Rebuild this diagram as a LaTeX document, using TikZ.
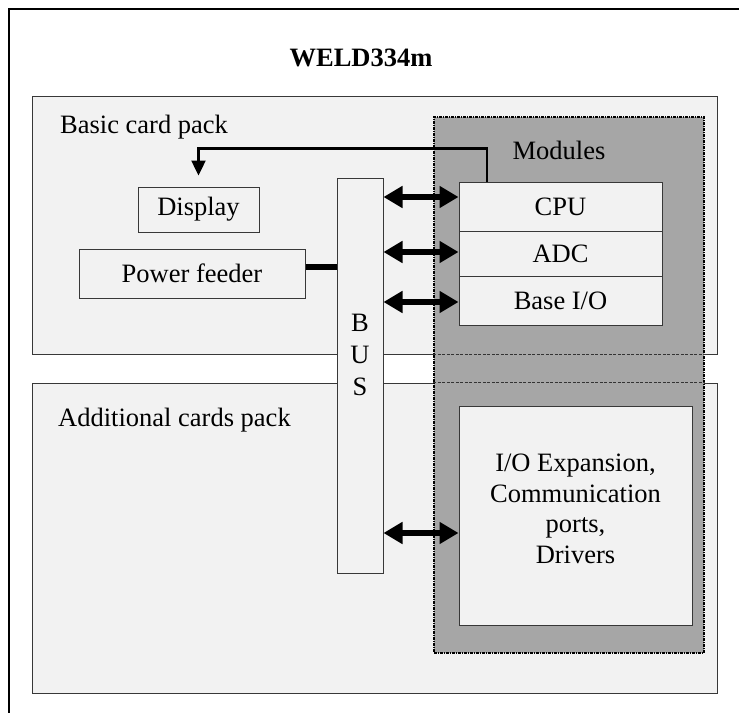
\documentclass[tikz,border=0pt]{standalone}
\usepackage{fontspec}
\setmainfont{Liberation Serif}
\usetikzlibrary{arrows.meta,calc}
\definecolor{panel}{HTML}{F2F2F2}
\definecolor{modgray}{HTML}{A6A6A6}
\definecolor{boxline}{HTML}{383838}

\begin{document}
\begin{tikzpicture}[x=1pt,y=-1pt,font=\fontsize{26.5}{30.5}\selectfont]
                     \tikzset{box/.style 2 args={draw=boxline, fill=panel, line width=1pt, inner sep=0pt, minimum width=#1, minimum height=#2},
                              modbox/.style={draw=black, fill=modgray, line width=1.3pt, dash pattern=on 3pt off 1pt on 1pt off 1pt, inner sep=0pt, minimum width=270, minimum height=536},
                              seam/.style={draw=black!80, line width=1pt, dash pattern=on 3pt off 1.5pt},
                              link/.style={{Triangle[width=21pt,length=19pt]}-{Triangle[width=21pt,length=19pt]}, line width=5.5pt},
                              fb/.style={-{Triangle[width=14pt,length=15pt]}, line width=2.4pt},
                              pwr/.style={line width=6pt},
                              lbl/.style={anchor=west, inner sep=0pt}};
            \useasboundingbox (0,0) rectangle (739,713);
            \fill[white] (0,0) rectangle (739,713);
            \draw[line width=2.4pt] (739,9) -- (9,9) -- (9,713);
            
            \node[font=\fontsize{26.5}{30.5}\selectfont\bfseries] (title) at (361,58) {WELD334m};
            
            \node[box={685}{258}] (basic) at (374.5,225) {};
            \node[box={685}{310}] (extra) at (374.5,538) {};
            \node[lbl] (basiclbl) at (60,127) {Basic card pack};
            \node[lbl] (extralbl) at (58,420) {Additional cards pack};
            
            \node[modbox] (modules) at (569,385) {};
            \draw[seam] (basic.south -| modules.west) -- (basic.south -| modules.east);
            \draw[seam] (extra.north -| modules.west) -- (extra.north -| modules.east);
            \node (modlbl) at (559,150) {Modules};
            
            \node[box={46}{395}] (bus) at (360,375.5) {};
            \node[align=center, inner sep=0pt, font=\fontsize{26.5}{32}\selectfont] (buslbl) at (360,355) {B\\U\\S};
            
            \node[box={121}{45}] (display) at (198.5,209.5) {Display};
            \node[box={226}{49}] (power) at (192,273.5) {Power feeder};
            
            \node[box={203}{49}] (cpu) at (560.5,206.5) {CPU};
            \node[box={203}{45}] (adc) at (560.5,253.5) {ADC};
            \node[box={203}{49}] (baseio) at (560.5,300.5) {Base I/O};
            \node[box={233}{219}, align=center, text depth=14pt] (ioexp) at (575.5,515.5) {I/O Expansion,\\Communication\\ports,\\Drivers};
            
            \foreach \m/\dy in {cpu/-9.5,adc/-1.5,baseio/1.5,ioexp/17.5}
                \draw[link] ($(\m.west -| bus.east)+(0,\dy)$) -- ($(\m.west)+(0,\dy)$);
            
            \draw[fb] ($(cpu.north)+(-73.5,0)$) -- ++(0,-33) -| ($(display.north)+(0,-11)$);
            \draw[pwr] ($(power.east)+(0,-6.5)$) coordinate (p) -- (p -| bus.west);
        \end{tikzpicture}
\end{document}
